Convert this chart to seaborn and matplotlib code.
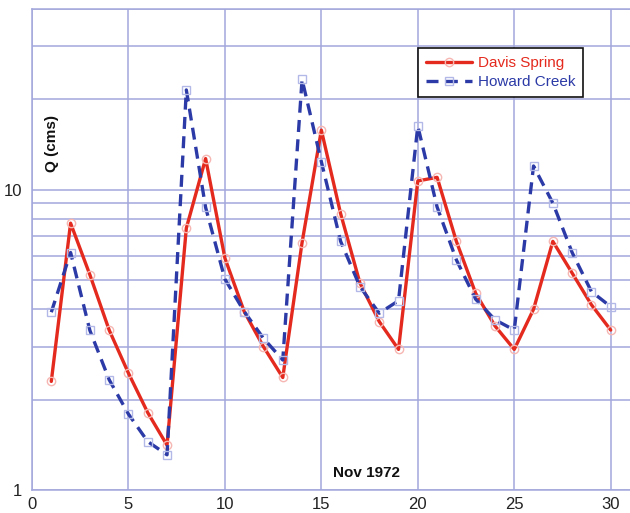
import matplotlib
matplotlib.use("Agg")
import matplotlib.pyplot as plt
import seaborn as sns
import numpy as np
import pandas as pd
from matplotlib.lines import Line2D

days = list(range(1, 31))
davis_spring = [2.30, 7.74, 5.21, 3.41, 2.45, 1.81, 1.41, 7.45, 12.7, 5.92,
                3.93, 3.00, 2.37, 6.67, 15.8, 8.32, 4.89, 3.64, 2.94, 10.7,
                11.0, 6.73, 4.52, 3.52, 2.94, 4.00, 6.73, 5.28, 4.14, 3.41]
howard_creek = [3.91, 6.18, 3.40, 2.33, 1.79, 1.45, 1.31, 21.5, 8.73, 5.04,
                3.93, 3.20, 2.71, 23.3, 12.4, 6.73, 4.76, 3.88, 4.27, 16.3,
                8.76, 5.84, 4.32, 3.69, 3.41, 12.0, 9.03, 6.18, 4.58, 4.08]
x_ticks = [0, 5, 10, 15, 20, 25, 30]
y_ticks = [1, 10]

df = pd.DataFrame({"day": days, "Davis Spring": davis_spring, "Howard Creek": howard_creek})

sns.set_theme(style="white")
plt.rcParams['font.family'] = ['Liberation Sans', 'DejaVu Sans']

fig = plt.figure(figsize=(6.3, 5.13), dpi=100)
ax = fig.add_axes([0.0508, 0.0448, 0.9492, 0.9377])

red = '#e42a1e'
blue = '#2b3aa6'
gridc = '#a3a8dc'
dash = (0, (3.6, 2.2))

sns.lineplot(data=df, x="day", y="Davis Spring", ax=ax, color=red, linewidth=2.4,
             marker='o', markersize=6, markerfacecolor='none', markeredgecolor='#f6b6b2',
             markeredgewidth=1.0, zorder=3)
sns.lineplot(data=df, x="day", y="Howard Creek", ax=ax, color=blue, linewidth=2.4,
             linestyle=dash, marker='s', markersize=6, markerfacecolor='none',
             markeredgecolor='#b3b9e6', markeredgewidth=1.0, zorder=3)

ax.set_yscale('log')
ax.set_xlim(0, 31)
ax.set_ylim(1, 40)
ax.set_xticks(x_ticks)
ax.set_xticklabels([str(t) for t in x_ticks])
ax.set_yticks(y_ticks)
ax.set_yticklabels([str(t) for t in y_ticks])
ax.set_yticks([v for v in list(range(2, 10)) + [20, 30, 40]], minor=True)
ax.yaxis.set_minor_formatter(matplotlib.ticker.NullFormatter())
ax.grid(True, which='both', axis='y', color=gridc, linewidth=1.1)
ax.grid(True, which='major', axis='x', color=gridc, linewidth=1.1)
ax.tick_params(axis='both', which='both', length=0, labelsize=12, colors='#222222')
ax.tick_params(axis='x', pad=5)
ax.tick_params(axis='y', pad=7)
ax.set_xlabel('')
ax.set_ylabel('')
for s in ['left', 'bottom', 'top']:
    ax.spines[s].set_color(gridc)
    ax.spines[s].set_linewidth(1.1)
ax.spines['right'].set_visible(False)

ax.text(1.05, 14.3, 'Q (cms)', rotation=90, fontsize=11, fontweight='bold',
        ha='center', va='center', color='#111111')
ax.text(17.35, 1.14, 'Nov 1972', fontsize=11, fontweight='bold',
        ha='center', va='center', color='#111111')

handles = [
    Line2D([], [], color=red, linewidth=2.4, marker='o', markersize=6,
           markerfacecolor='none', markeredgecolor='#f6b6b2'),
    Line2D([], [], color=blue, linewidth=2.4, linestyle=dash, marker='s',
           markersize=6, markerfacecolor='none', markeredgecolor='#b3b9e6'),
]
leg = ax.legend(handles, ['Davis Spring', 'Howard Creek'], loc='upper left',
                bbox_to_anchor=(0.6455, 0.919), frameon=True, fancybox=False,
                fontsize=11, handlelength=3.0, handletextpad=0.35, borderpad=0.55,
                labelspacing=0.3, borderaxespad=0)
leg.get_frame().set_edgecolor('#111111')
leg.get_frame().set_linewidth(1.2)
leg.get_frame().set_facecolor('white')
leg.get_frame().set_alpha(1)
leg.get_texts()[0].set_color(red)
leg.get_texts()[1].set_color(blue)

fig.savefig('out.png', dpi=100)
